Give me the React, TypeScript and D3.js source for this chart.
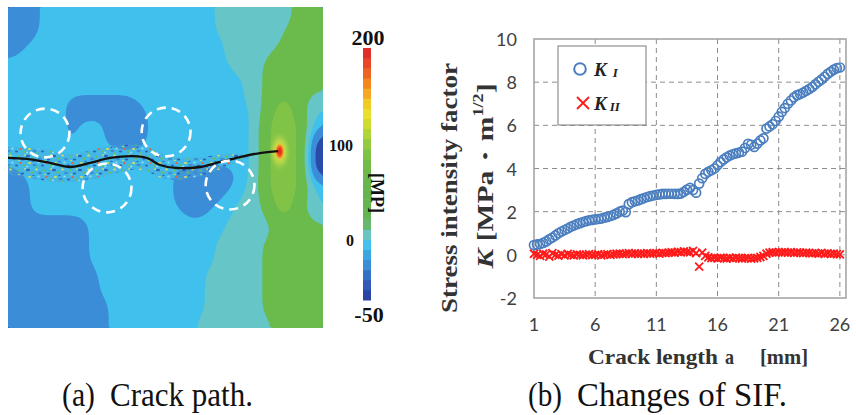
import React, { useMemo } from "react";
import * as d3 from "d3";

// ================= DATA: SIF chart (b) =================
const crackLength: number[] = d3.range(101).map((i) => 1 + i * 0.25);
const KI: number[] = [
  0.45, 0.48, 0.5, 0.55,
  0.62, 0.72, 0.8, 0.9,
  1.0, 1.08, 1.15, 1.22,
  1.3, 1.36, 1.42, 1.47,
  1.52, 1.56, 1.6, 1.62,
  1.64, 1.66, 1.68, 1.72,
  1.76, 1.8, 1.85, 1.92,
  2.0, 2.05, 1.98, 2.35,
  2.44, 2.48, 2.52, 2.58,
  2.63, 2.68, 2.72, 2.75,
  2.78, 2.8, 2.82, 2.82,
  2.83, 2.83, 2.82, 2.82,
  2.84, 2.92, 3.02, 3.1,
  3.0, 2.88, 3.3, 3.55,
  3.75, 3.85, 3.92, 4.0,
  4.15, 4.3, 4.42, 4.52,
  4.6, 4.66, 4.7, 4.74,
  4.78, 4.95, 5.14, 5.1,
  5.0, 5.15, 5.3, 5.4,
  5.85, 5.95, 6.05, 6.2,
  6.4, 6.62, 6.8, 7.0,
  7.15, 7.3, 7.4, 7.45,
  7.52, 7.6, 7.68, 7.78,
  7.9, 8.02, 8.12, 8.25,
  8.38, 8.48, 8.58, 8.65,
  8.68,
];
const KII: number[] = [
  0.05, 0.0, -0.05, 0.05,
  0.02, -0.08, 0.08, 0.0,
  -0.04, 0.03, -0.02, 0.04,
  0.0, -0.03, 0.02, 0.0,
  -0.02, 0.01, 0.03, -0.01,
  0.0, 0.02, -0.02, 0.01,
  0.03, 0.0, 0.02, 0.05,
  0.06, 0.03, 0.05, 0.08,
  0.05, 0.07, 0.04, 0.06,
  0.05, 0.08, 0.06, 0.07,
  0.08, 0.06, 0.09, 0.08,
  0.1, 0.12, 0.1, 0.14,
  0.12, 0.16, 0.14, 0.12,
  0.18, 0.08, -0.55, 0.1,
  -0.05, -0.12, -0.15, -0.14,
  -0.16, -0.13, -0.15, -0.17,
  -0.14, -0.16, -0.13, -0.15,
  -0.17, -0.15, -0.14, -0.18,
  -0.16, -0.14, -0.1, -0.05,
  0.05, 0.1, 0.12, 0.1,
  0.13, 0.11, 0.12, 0.1,
  0.12, 0.09, 0.11, 0.1,
  0.08, 0.1, 0.09, 0.07,
  0.08, 0.06, 0.09, 0.05,
  0.07, 0.04, 0.06, 0.03,
  0.02,
];
const xTicks = [1, 6, 11, 16, 21, 26];
const yTicks = [-2, 0, 2, 4, 6, 8, 10];

// ================= DATA: stress field (a) =================
// 32 x 32 grid of stress levels
const fieldRows = [
  "BBBcccccccccccccccccctttttttteee".replace(/e/g, "g"),
  "BBBcccccccccccccccccctttttttteee".replace(/e/g, "g"),
  "BBBccccccccccccccccccttttttteeee".replace(/e/g, "g"),
  "BBcccccccccccccccccccctttttteeee".replace(/e/g, "g"),
  "Bcccccccccccccccccccccttttteeeee".replace(/e/g, "g"),
  "cccccccccccccccccccccctttteeeeee".replace(/e/g, "g"),
  "cccccccccccccccccccccccttteeeeee".replace(/e/g, "g"),
  "ccccccccccccccccccccccccttgggggg",
  "ccccccccccccccccccccccccttgggggt",
  "ccccccBBBBBBBcccccccccccttgGGgtt",
  "ccccccBBBBBBBBccccccccccctgGGgtc",
  "ccccccBcccBBBBccccccccccctGGGGtc",
  "ccccccBcccBBBBccccccccccctGGGGtB",
  "ccccccBcccBBBBccccccccccctGGGGtD",
  "ccccccccccccccccccccccccctGGGGtD",
  "ccccccccccccccccccccccccctGGGGtD",
  "BccccccccccccccccBBBBBBcctGGGGtD",
  "BBcccccccccccccccBBBBBBcttGGGGtc",
  "BBcccccccccccccccBBBBBccttGGGGtc",
  "BBcccccccccccccccBBBBcctttgGGgtc",
  "BBccccccccccccccccBBccctttgGGgtt",
  "BBBBBBBBcccccccccccccctttttggggt",
  "BBBBBBBBcccccccccccccctttttggggg",
  "BBBBBBBBccccccccccccctttttgggggg",
  "BBBBBBBBccccccccccccctttttgggggg",
  "BBBBBBBBccccccccccccctttttgggggg",
  "BBBBBBBBBcccccccccccttttttgggggg",
  "BBBBBBBBBcccccccccccttttttgggggg",
  "BBBBBBBBBcccccccccccttttttgggggg",
  "BBBBBBBBBBccccccccccttttttgggggg",
  "BBBBBBBBBBccccccccccttttttgggggg",
  "BBBBBBBBBBcccccccccttttttttggggg",
];
const fieldLevels: Record<string, number> = { D: -70, B: -20, c: 5, t: 15, g: 50, G: 80 };
const fieldThresholds = [-30, -5, 10, 30, 65];
const fieldColors = ["#2b4ba8", "#3a8dd6", "#40c0ec", "#66c5c6", "#6aba4c", "#80c346"];
// crack path in grid units (x: 0..32, y: 0..32)
const crackPath: [number, number][] = [
  [0, 15.05], [1.93, 15.15], [4.27, 15.55], [6.3, 15.95], [8.33, 15.55],
  [10.37, 15.05], [12.7, 14.86], [14.13, 15.05], [15.45, 15.75], [17.17, 16.05],
  [19.5, 15.95], [21.54, 15.45], [23.58, 14.96], [25.6, 14.56], [27.44, 14.36],
];
// damaged band around the crack: [x, yTop, yBottom] in grid units
const damageBand: [number, number, number][] = [
  [0, 13.9, 16.7], [2, 14.0, 17.0], [4.3, 14.3, 17.4], [6.3, 14.7, 17.5],
  [8.3, 14.3, 17.2], [10.4, 13.8, 16.7], [12.7, 13.7, 16.2], [14.1, 13.9, 16.4],
  [15.5, 14.6, 17.0], [17.2, 15.0, 17.2], [19.5, 15.0, 16.9], [21.5, 14.7, 16.2],
  [23.0, 14.6, 15.6], [24.5, 14.7, 15.0],
];
const dashedCircles: [number, number][] = [
  [3.76, 12.56], [10.06, 18.04], [16.06, 12.46], [22.56, 17.75],
];
const circleRadius = 2.48;
const crackTip: [number, number] = [27.5, 14.4];
const colorbarColors = [
  "#2a44a4", "#305ab4", "#3672c4", "#3a8cd4", "#3aa6e2", "#44c0ec", "#6ac4c0",
  "#66b870", "#64b452", "#64b450", "#66b44e", "#68b64c", "#6cb84a", "#74bc48",
  "#80c244", "#94ca40", "#b0d43a", "#cedc32", "#e8e02e", "#f2cc26", "#f4aa22",
  "#f2861f", "#ee6424", "#e84828", "#e0302a",
];
const colorbarMin = -50;
const colorbarStep = 10;

const serif = '"Liberation Serif", "Times New Roman", serif';
const sans = 'Lato, "Liberation Sans", sans-serif';

// speckle pattern elements: [cx, cy, rx, ry, color]
const speckles: [number, number, number, number, string][] = [
  [2, 2, 2.1, 1.3, "#2f5db4"], [6, 4.5, 1.6, 1.1, "#6cbf4a"], [10.5, 1.5, 1.4, 1.0, "#e2e048"],
  [14, 5, 2.0, 1.3, "#3f8ad4"], [18.5, 2.5, 1.5, 1.0, "#6cbf4a"], [22.5, 5.5, 1.7, 1.1, "#2f5db4"],
  [3.5, 9, 1.6, 1.0, "#e2e048"], [8.5, 11, 2.0, 1.2, "#3f8ad4"], [12.5, 8.5, 1.3, 1.0, "#8fdcf2"],
  [16.5, 11.5, 1.6, 1.1, "#2f5db4"], [20.5, 9, 1.3, 0.9, "#e8603a"], [24.5, 11.5, 1.5, 1.0, "#6cbf4a"],
  [1, 12.5, 1.2, 0.9, "#8fdcf2"], [11, 13, 1.1, 0.8, "#6cbf4a"], [25, 1, 1.1, 0.8, "#e2e048"],
  [7.5, 7.5, 1.1, 0.8, "#2f5db4"], [19, 6.5, 1.0, 0.8, "#b8e46a"],
];

function boxBlur(src: Float64Array, w: number, h: number, r: number) {
  const tmp = new Float64Array(w * h);
  const out = new Float64Array(w * h);
  const n = 2 * r + 1;
  for (let y = 0; y < h; y++) {
    for (let x = 0; x < w; x++) {
      let s = 0;
      for (let k = -r; k <= r; k++) {
        const xx = Math.min(w - 1, Math.max(0, x + k));
        s += src[y * w + xx];
      }
      tmp[y * w + x] = s / n;
    }
  }
  for (let y = 0; y < h; y++) {
    for (let x = 0; x < w; x++) {
      let s = 0;
      for (let k = -r; k <= r; k++) {
        const yy = Math.min(h - 1, Math.max(0, y + k));
        s += tmp[yy * w + x];
      }
      out[y * w + x] = s / n;
    }
  }
  return out;
}

export default function App() {
  // ---------- field panel ----------
  const FX0 = 8, FX1 = 323, FY0 = 7, FY1 = 328;
  const fx = d3.scaleLinear().domain([0, 32]).range([FX0, FX1]);
  const fy = d3.scaleLinear().domain([0, 32]).range([FY0, FY1]);

  const field = useMemo(() => {
    const n = 32, up = 4, w = n * up, h = n * up;
    let vals = new Float64Array(w * h);
    for (let v = 0; v < h; v++)
      for (let u = 0; u < w; u++)
        vals[v * w + u] = fieldLevels[fieldRows[Math.floor(v / up)][Math.floor(u / up)]] ?? 5;
    vals = boxBlur(vals, w, h, 3);
    vals = boxBlur(vals, w, h, 3);
    vals = boxBlur(vals, w, h, 3);
    const contours = d3.contours().size([w, h]).thresholds(fieldThresholds)(Array.from(vals));
    return { contours, w, h };
  }, []);
  const geo = d3.geoPath();

  const crackLine = d3
    .line<[number, number]>()
    .x((d) => fx(d[0]))
    .y((d) => fy(d[1]))
    .curve(d3.curveCatmullRom)(crackPath) as string;
  const bandArea = d3
    .area<[number, number, number]>()
    .x((d) => fx(d[0]))
    .y0((d) => fy(d[1]))
    .y1((d) => fy(d[2]))
    .curve(d3.curveCatmullRom)(damageBand) as string;

  const cbY = d3.scaleLinear().domain([-50, 200]).range([300, 48]);

  // ---------- SIF chart ----------
  const x = d3.scaleLinear().domain([1, 26.5]).range([534, 846]);
  const y = d3.scaleLinear().domain([-2, 10]).range([298, 39]);
  const [L, R, T, B] = [534, 846, 39, 298];

  return (
    <svg width={856} height={415} style={{ position: "absolute", left: 0, top: 0, background: "#fff" }}>
      <defs>
        <clipPath id="fieldClip">
          <rect x={FX0} y={FY0} width={FX1 - FX0} height={FY1 - FY0} />
        </clipPath>
        <pattern id="speckle" width={26} height={14} patternUnits="userSpaceOnUse">
          {speckles.map((s, i) => (
            <ellipse key={i} cx={s[0]} cy={s[1]} rx={s[2]} ry={s[3]} fill={s[4]} />
          ))}
        </pattern>
        <radialGradient id="tipGlow">
          <stop offset="0%" stopColor="#e8e040" stopOpacity={1} />
          <stop offset="55%" stopColor="#c4da4a" stopOpacity={0.8} />
          <stop offset="100%" stopColor="#9ccc50" stopOpacity={0} />
        </radialGradient>
        <radialGradient id="tipHot">
          <stop offset="0%" stopColor="#e01c1c" />
          <stop offset="45%" stopColor="#ee4a20" />
          <stop offset="75%" stopColor="#f4a030" stopOpacity={0.9} />
          <stop offset="100%" stopColor="#f0e040" stopOpacity={0} />
        </radialGradient>
      </defs>

      {/* ===== (a) stress field ===== */}
      <g clipPath="url(#fieldClip)">
        <rect x={FX0} y={FY0} width={FX1 - FX0} height={FY1 - FY0} fill={fieldColors[0]} />
        <g transform={`translate(${FX0},${FY0}) scale(${(FX1 - FX0) / field.w},${(FY1 - FY0) / field.h})`}>
          {field.contours.map((c, i) => (
            <path key={i} d={geo(c as any) as string} fill={fieldColors[i + 1]} />
          ))}
        </g>
        <path d={bandArea} fill="#4aa8dc" opacity={0.35} />
        <path d={bandArea} fill="url(#speckle)" opacity={0.95} />
        <ellipse cx={fx(crackTip[0]) + 1} cy={fy(crackTip[1])} rx={11} ry={20} fill="url(#tipGlow)" />
        <ellipse cx={fx(crackTip[0]) + 1} cy={fy(crackTip[1])} rx={5} ry={9} fill="url(#tipHot)" />
        <path d={crackLine} fill="none" stroke="#111" strokeWidth={2.3} />
        {dashedCircles.map((c, i) => (
          <circle key={i} cx={fx(c[0])} cy={fy(c[1])} r={fx(circleRadius) - FX0} fill="none"
            stroke="#fff" strokeWidth={2.6} strokeDasharray="9 6" />
        ))}
      </g>

      {/* colorbar */}
      {colorbarColors.map((col, i) => {
        const v0 = colorbarMin + i * colorbarStep;
        const v1 = v0 + colorbarStep;
        return <rect key={i} x={363} y={cbY(v1)} width={8} height={cbY(v0) - cbY(v1) + 0.5} fill={col} />;
      })}
      <g fontFamily={serif} fontWeight="bold" fill="#111">
        <text x={368} y={45} fontSize={22} textAnchor="middle">200</text>
        <text x={353} y={151} fontSize={16} textAnchor="end">100</text>
        <text x={354} y={246} fontSize={16} textAnchor="end">0</text>
        <text x={369} y={322} fontSize={22} textAnchor="middle">-50</text>
        <g transform="translate(377,193) rotate(90)">
          <text textAnchor="middle" dominantBaseline="central" fontSize={19} textLength={40} lengthAdjust="spacingAndGlyphs">[MP]</text>
        </g>
      </g>

      {/* ===== (b) SIF chart ===== */}
      {/* grid */}
      <g stroke="#8c8c8c" strokeWidth={1} strokeDasharray="5 4" fill="none">
        {yTicks.filter((t) => t > -2 && t < 10).map((t) => (
          <line key={"h" + t} x1={L} x2={R} y1={y(t)} y2={y(t)} />
        ))}
        {xTicks.filter((t) => t > 1).map((t) => (
          <line key={"v" + t} x1={x(t)} x2={x(t)} y1={T} y2={B} />
        ))}
      </g>
      <rect x={L} y={T} width={R - L} height={B - T} fill="none" stroke="#a0a0a0" strokeWidth={1.5} />

      {/* series */}
      <g fill="none" stroke="#4a7ebf" strokeWidth={1.7}>
        {KI.map((v, i) => (
          <circle key={i} cx={x(crackLength[i])} cy={y(v)} r={4.5} />
        ))}
      </g>
      <g fill="none" stroke="#ff1a1a" strokeWidth={1.8}>
        {KII.map((v, i) => (
          <path key={i} transform={`translate(${x(crackLength[i])},${y(v)})`} d="M-4,-4L4,4M-4,4L4,-4" />
        ))}
      </g>

      {/* legend */}
      <rect x={558} y={46} width={88} height={79} fill="#fff" stroke="#7a7a7a" strokeWidth={1} />
      <circle cx={580} cy={69} r={5.8} fill="none" stroke="#4a7ebf" strokeWidth={2} />
      <path transform="translate(583,103)" d="M-6,-6L6,6M-6,6L6,-6" stroke="#ff1a1a" strokeWidth={1.8} />
      <text x={594} y={76} fontFamily={serif} fill="#222" fontWeight="bold">
        <tspan fontSize={19} fontStyle="italic">K</tspan>
        <tspan fontSize={13} fontStyle="italic" dx={6} dy={1}>I</tspan>
      </text>
      <text x={594} y={110} fontFamily={serif} fill="#222" fontWeight="bold">
        <tspan fontSize={19} fontStyle="italic">K</tspan>
        <tspan fontSize={13} fontStyle="italic" dx={3} dy={1}>II</tspan>
      </text>

      {/* tick labels */}
      <g fontFamily={sans} fontSize={18} fill="#404040">
        {yTicks.map((t) => (
          <text key={t} x={517} y={y(t)} textAnchor="end" dominantBaseline="central">{t}</text>
        ))}
        {xTicks.map((t) => (
          <text key={t} x={x(t)} y={331} textAnchor="middle">{t}</text>
        ))}
      </g>

      {/* axis titles */}
      <g fontFamily={serif} fontWeight="bold" fill="#333">
        <g transform="translate(450,188) scale(0.85,1) rotate(-90)">
          <text textAnchor="middle" dominantBaseline="central" fontSize={26} textLength={250} lengthAdjust="spacingAndGlyphs">
            Stress intensity factor
          </text>
        </g>
        <g transform="translate(486,176) scale(0.85,1) rotate(-90)">
          <text textAnchor="middle" dominantBaseline="central" fontSize={26} textLength={185} lengthAdjust="spacingAndGlyphs">
            <tspan fontStyle="italic">K</tspan>
            <tspan> [MPa・m</tspan>
            <tspan fontSize={16} dy={-9}>1/2</tspan>
            <tspan dy={9}>]</tspan>
          </text>
        </g>
        <text x={588} y={364} fontSize={22} textLength={130} lengthAdjust="spacingAndGlyphs">Crack length</text>
        <text x={725} y={364} fontSize={22} textLength={9} lengthAdjust="spacingAndGlyphs">a</text>
        <text x={760} y={364} fontSize={22} textLength={48} lengthAdjust="spacingAndGlyphs">[mm]</text>
      </g>

      {/* captions */}
      <g fontFamily={serif} fill="#111" fontSize={34}>
        <text x={62} y={406} textLength={33} lengthAdjust="spacingAndGlyphs">(a)</text>
        <text x={110} y={406} textLength={143} lengthAdjust="spacingAndGlyphs">Crack path.</text>
        <text x={528} y={406} textLength={34} lengthAdjust="spacingAndGlyphs">(b)</text>
        <text x={577} y={406} textLength={210} lengthAdjust="spacingAndGlyphs">Changes of SIF.</text>
      </g>
    </svg>
  );
}
